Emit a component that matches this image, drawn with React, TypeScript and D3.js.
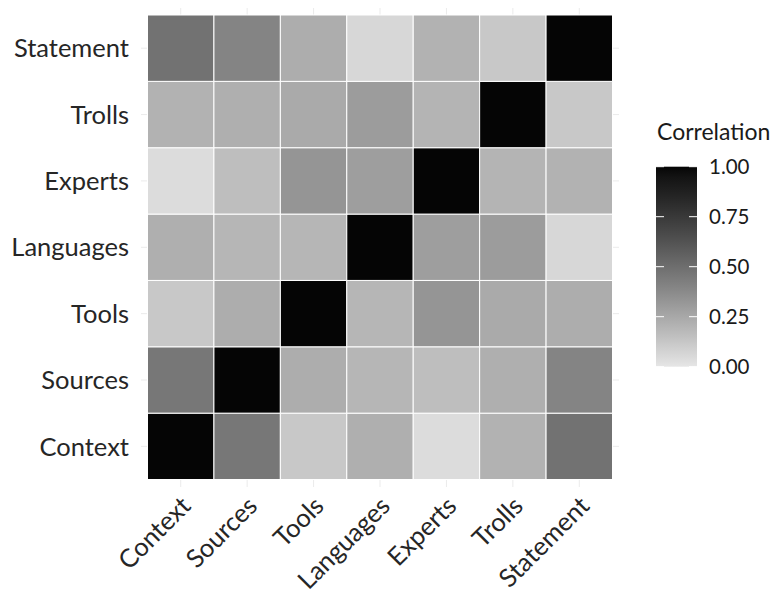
import React from "react";
import * as d3 from "d3";

const categories = ["Context", "Sources", "Tools", "Languages", "Experts", "Trolls", "Statement"];

// correlation matrix rows (same order as categories)
const context = [1.0, 0.46, 0.12, 0.22, 0.04, 0.21, 0.48];
const sources = [0.46, 1.0, 0.23, 0.19, 0.16, 0.22, 0.40];
const tools = [0.12, 0.23, 1.0, 0.19, 0.33, 0.24, 0.23];
const languages = [0.22, 0.19, 0.19, 1.0, 0.29, 0.30, 0.06];
const experts = [0.04, 0.16, 0.33, 0.29, 1.0, 0.20, 0.21];
const trolls = [0.21, 0.22, 0.24, 0.30, 0.20, 1.0, 0.12];
const statement = [0.48, 0.40, 0.23, 0.06, 0.21, 0.12, 1.0];

const rows = [context, sources, tools, languages, experts, trolls, statement];
const legendTicks = [0, 0.25, 0.5, 0.75, 1];

const W = 777;
const H = 590;
const FONT = "Lato, 'Open Sans', sans-serif";

export default function App() {
  const x = d3.scaleBand<string>().domain(categories).range([147.5, 612.5]).padding(0);
  const y = d3.scaleBand<string>().domain(categories).range([479.5, 15]).padding(0);
  const color = d3.scaleLinear<string>().domain([0, 1]).range(["#e6e6e6", "#050505"]).interpolate(d3.interpolateLab);

  const panel = { x0: 141, x1: 619, y0: 8, y1: 487 };

  const lg = { x: 656, w: 41, top: 166.7, bottom: 366.7 };
  const ly = d3.scaleLinear().domain([0, 1]).range([lg.bottom, lg.top]);

  const cells: { r: string; c: string; v: number }[] = [];
  rows.forEach((row, i) => {
    row.forEach((v, j) => {
      cells.push({ r: categories[i], c: categories[j], v });
    });
  });

  const bw = x.bandwidth();

  return (
    <svg width={W} height={H} style={{ position: "absolute", left: 0, top: 0, background: "#fff" }} fontFamily={FONT}>
      <defs>
        <linearGradient id="grad" x1="0" y1="1" x2="0" y2="0">
          {d3.range(0, 1.0001, 0.05).map((t) => (
            <stop key={t} offset={t} stopColor={color(t)} />
          ))}
        </linearGradient>
      </defs>
      {/* grid lines */}
      {categories.map((c) => (
        <line key={"gx" + c} x1={x(c)! + bw / 2} x2={x(c)! + bw / 2} y1={panel.y0} y2={panel.y1} stroke="#ebebeb" strokeWidth={1} />
      ))}
      {categories.map((c) => (
        <line key={"gy" + c} y1={y(c)! + bw / 2} y2={y(c)! + bw / 2} x1={panel.x0} x2={panel.x1} stroke="#ebebeb" strokeWidth={1} />
      ))}
      {/* tiles */}
      {cells.map((d) => (
        <rect
          key={d.r + d.c}
          x={x(d.c)}
          y={y(d.r)}
          width={bw}
          height={y.bandwidth()}
          fill={color(d.v)}
          stroke="#ffffff"
          strokeWidth={1}
        />
      ))}
      {/* y axis labels */}
      {categories.map((c) => (
        <text key={"yl" + c} x={129} y={y(c)! + y.bandwidth() / 2} dy="0.36em" textAnchor="end" fontSize={25.5} fill="#262626">
          {c}
        </text>
      ))}
      {/* x axis labels */}
      {categories.map((c) => (
        <text
          key={"xl" + c}
          transform={`translate(${x(c)! + bw / 2 - 1},${495}) rotate(-45)`}
          textAnchor="end"
          dy="0.7em"
          fontSize={25.5}
          fill="#262626"
        >
          {c}
        </text>
      ))}
      {/* legend */}
      <text x={657} y={140} fontSize={23} fill="#1a1a1a">Correlation</text>
      <rect x={lg.x} y={lg.top} width={lg.w} height={lg.bottom - lg.top} fill="url(#grad)" />
      {legendTicks.map((t) => (
        <g key={"lt" + t}>
          <line x1={lg.x} x2={lg.x + 8} y1={ly(t)} y2={ly(t)} stroke="#ffffff" strokeWidth={1} />
          <line x1={lg.x + lg.w - 8} x2={lg.x + lg.w} y1={ly(t)} y2={ly(t)} stroke="#ffffff" strokeWidth={1} />
          <text x={709} y={ly(t)} dy="0.36em" fontSize={20.5} fill="#1a1a1a">
            {d3.format(".2f")(t)}
          </text>
        </g>
      ))}
    </svg>
  );
}
